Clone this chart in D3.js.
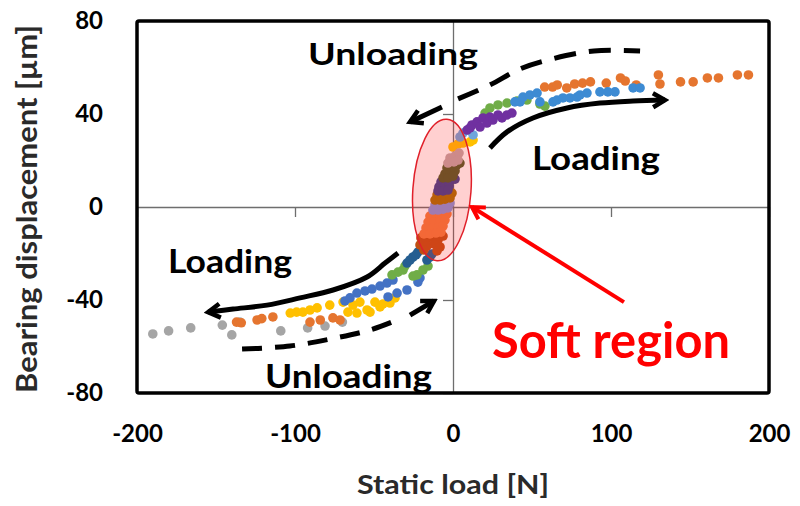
<!DOCTYPE html>
<html>
<head>
<meta charset="utf-8">
<script src="https://cdn.jsdelivr.net/npm/d3@7"></script>
<style>
body { margin: 0; background: #fff; }
svg text { font-family: Lato, "Open Sans", sans-serif; font-weight: bold; }
</style>
</head>
<body>
<div id="chart"></div>
<script>
width = 800;
height = 506;

margin = { top: 21, right: 31, bottom: 113, left: 137 };

//////// Data ////////
const xTicks = [-200, -100, 0, 100, 200];
const yTicks = [-80, -40, 0, 40, 80];
const xTitle = "Static load [N]";
const yTitle = "Bearing displacement [µm]";

// each run: [static load (N), bearing displacement (µm)]
const runGray = [[-190,-54.6],[-180,-53.3],[-166,-52],[-146,-50.8],[-140,-55],[-135,-49.5],
    [-109,-53.3],[-92,-52],[-81,-51.2],[-70,-49.5]];
const runOrange = [[-137,-49.5],[-134,-49.8],[-124,-48.6],[-121,-48],[-114,-47.3],[-90.5,-49.5],
    [-84,-48.6],[-76,-47.7],[-71.5,-48.6],
    [58,51.6],[63,51.6],[66,52.5],[72,51.2],[77,52.9],[82,53.3],[87,53.8],[97,53.3],[106,55.5],
    [109,54.2],[116,52.5],[130,56.8],[131,52.9],[144,53.8],[152,53.8],[161,55.5],[168,55.5],
    [180,56.8],[187,56.8]];
const runYellow = [[-103,-45.6],[-99,-45.2],[-95,-45.2],[-90.5,-44.3],[-86,-43.4],[-78,-42.2],
    [-69.6,-40.9],[-66.5,-45.2],[-63.3,-42.2],[-60.8,-45.6],[-58.9,-40.9],[-54.4,-44.3],
    [-52.5,-45.2],[-49.4,-40.9],[-46.2,-43],[-44.3,-41.7],[-39.9,-41.3],[-36.7,-39.1],
    [0,25.8],[3.2,27.1],[6.3,27.5],[10.8,28],[12.7,28.8]];
const runBlue = [[-68.4,-40.4],[-65.2,-39.1],[-60.8,-37],[-55.7,-36.1],[-51.3,-35.3],[-46.2,-34],
    [-41.8,-32.7],[-38,-31.4],[-41.1,-38.7],[-35.4,-37],[-29.1,-35.7],[-22.2,-32.3],[-20.9,-30.5]];
const runSky = [[39.2,45.2],[42.4,45.2],[44.3,47.3],[48.7,48.2],[53.2,49],[55,45.2],[63.3,45.2],
    [65.8,46],[69.6,46.9],[74,46.9],[78.5,47.3],[80.4,48.2],[84.8,49],[93,49.5],[98,49.5],
    [102.5,49.5],[114,51.2],[118.4,51.2]];
const runGreen = [[-38.6,-29.2],[-34.8,-28],[-31.6,-27.1],[-25.3,-29.7],[-22.8,-29.2],[-19,-27.1],
    [-30.4,-25.4],[-15.8,-25.4],
    [20.3,40.4],[23.4,42.6],[28.5,43.9],[34.2,44.7],[40.5,45.6],[46.8,46],[55,44.3],[58.2,43.4]];
const runPurple = [[8.9,33.1],[10.8,34],[12,35.3],[15.2,36.6],[17.1,34.4],[19,38.3],[21.5,36.1],
    [23.4,38.7],[25.3,37.4],[28.5,39.6],[31,38.3],[34.2,39.6],[37.3,40.4]];
const runLightBlue = [[4.4,30.1],[6.3,31.8],[9.5,33.1],[12.7,31]];
// soft region runs, top to bottom
const runSilver = [[-1.9,21.1],[1.3,21.9],[3.8,23.2],[-3.2,18.9],[0.6,19.4],[3.2,20.2]];
const runDarkGreen = [[-3.8,16.8],[-0.6,17.6],[2.5,18.1],[4.4,18.9],[-5.1,14.2],[-1.9,14.6],
    [1.3,15.5],[-6.3,12.5],[-3.2,12.5],[0,13.3]];
const runNavy = [[-7.6,10.8],[-4.4,11.2],[-1.3,11.6],[1.3,12],[-8.9,8.6],[-5.7,8.6],[-2.5,9],
    [-9.5,6.9],[-6.3,6.9],[-3.2,7.3]];
const runGold = [[-10.1,5.2],[-7,5.2],[-3.8,5.6],[-0.6,6],[-11.4,3],[-8.2,3],[-5.1,3.4],[-1.9,3.9]];
const runPeriwinkle = [[-11.4,0.9],[-8.2,0.9],[-5.1,1.3],[-1.9,1.7],[-12.7,-1.3],[-9.5,-1.3],
    [-6.3,-0.9],[-3.2,-0.4]];
const runCoral = [[-14.6,-3.9],[-10.8,-3.9],[-7,-3.4],[-3.8,-3],[-15.8,-6.5],[-12,-6.5],[-8.2,-6],
    [-5.1,-5.6],[-17.1,-9],[-13.3,-9],[-9.5,-8.6],[-6.3,-8.2],[-18.4,-11.6],[-14.6,-11.6],
    [-10.8,-11.2],[-7.6,-10.8]];
const runRust = [[-20.3,-13.3],[-17.1,-14.2],[-13.3,-12.9],[-9.5,-14.2],[-6.3,-12.5],[-20.9,-16.3],
    [-16.5,-16.8],[-12,-15.9],[-8.2,-17.2],[-18.4,-18.5],[-10.1,-18.9]];
const runTeal = [[-22.2,-19.4],[-25.3,-21.5],[-29.1,-24.1],[-16.5,-22.8],[-14.6,-21.5],[-13.3,-20.2],
    [-27.2,-22.8],[-23.4,-20.6]];

const runs = [
    { pts: runGray, color: "#A5A5A5" },
    { pts: runOrange, color: "#E5752F" },
    { pts: runYellow, color: "#FFC000" },
    { pts: runBlue, color: "#4472C4" },
    { pts: runGreen, color: "#70AD47" },
    { pts: runSky, color: "#3D8BD3" },
    { pts: runLightBlue, color: "#6FA5DC" },
    { pts: runPurple, color: "#7030A0" },
    { pts: runTeal, color: "#255E91" },
    { pts: runRust, color: "#C04E12" },
    { pts: runCoral, color: "#F07A3C" },
    { pts: runPeriwinkle, color: "#8593D8" },
    { pts: runGold, color: "#A66D00" },
    { pts: runNavy, color: "#3B3F8E" },
    { pts: runDarkGreen, color: "#4E5A26" },
    { pts: runSilver, color: "#BFA6A6" }
];

// annotation paths, in data units
const unloadTop = [[3.2,46.5],[23.4,52.5],[42.4,59.4],[62.7,63.7],[89.2,67.1],[118.4,67.1]];
const unloadTopArrow = [[-7,43],[-27.2,36.6]];
const loadTop = [[23.4,25.4],[34.2,32.3],[50.6,38.3],[72.2,42.6],[93,44.7],[113.9,45.6],[134.2,46]];
const loadBottom = [[-34.8,-19.8],[-43,-24.1],[-54.4,-30.1],[-75.9,-35.7],[-96.8,-39.1],
    [-117.7,-42.2],[-139.2,-43.9],[-155,-45.2]];
const unloadBottom = [[-133.5,-61.1],[-103.2,-59.8],[-77.8,-56.8],[-52.5,-52.9],[-38.6,-49.5]];
const unloadBottomArrow = [[-27.2,-46.5],[-12,-40.4]];
const softArrow = [[108.2,-40.9],[12,0]];

//////// Scales ////////
const xScale = d3.scaleLinear().domain([-200, 200]).range([margin.left, width - margin.right]);
const yScale = d3.scaleLinear().domain([-80, 80]).range([height - margin.bottom, margin.top]);

const svg = d3.select("#chart").append("svg")
    .attr("width", width)
    .attr("height", height);

const defs = svg.append("defs");
function arrowMarker(id, color, w) {
    defs.append("marker")
        .attr("id", id)
        .attr("viewBox", "-16 -10 20 20")
        .attr("refX", 0).attr("refY", 0)
        .attr("markerWidth", 20).attr("markerHeight", 20)
        .attr("markerUnits", "userSpaceOnUse")
        .attr("orient", "auto")
        .append("path")
        .attr("d", "M-12,-7 L0,0 L-12,7")
        .attr("fill", "none")
        .attr("stroke", color)
        .attr("stroke-width", w)
        .attr("stroke-linejoin", "miter");
}
arrowMarker("headBlack", "#000", 4.5);
arrowMarker("headRed", "#f00", 4);

//////// Axes (Excel style: lines through zero, labels low) ////////
svg.append("g")
    .attr("transform", `translate(0,${yScale(0)})`)
    .call(d3.axisBottom(xScale).tickValues(xTicks).tickSize(10).tickSizeOuter(0).tickFormat(""))
    .call(g => g.selectAll("path, line").attr("stroke", "#6e6e6e").attr("stroke-width", 1.3));

svg.append("g")
    .attr("transform", `translate(${xScale(0)},0)`)
    .call(d3.axisLeft(yScale).tickValues(yTicks).tickSize(10).tickSizeOuter(0).tickFormat(""))
    .call(g => g.selectAll("path, line").attr("stroke", "#6e6e6e").attr("stroke-width", 1.3));

svg.append("g")
    .attr("transform", `translate(0,${height - margin.bottom})`)
    .call(d3.axisBottom(xScale).tickValues(xTicks).tickSize(0).tickPadding(32).tickFormat(d => String(d)))
    .call(g => g.select(".domain").remove())
    .call(g => g.selectAll("text").attr("font-size", 24).attr("fill", "#000")
        .attr("font-family", "Lato, sans-serif").attr("font-weight", "bold"));

svg.append("g")
    .attr("transform", `translate(${margin.left},0)`)
    .call(d3.axisLeft(yScale).tickValues(yTicks).tickSize(0).tickPadding(34).tickFormat(d => String(d)))
    .call(g => g.select(".domain").remove())
    .call(g => g.selectAll("text").attr("font-size", 24).attr("fill", "#000")
        .attr("font-family", "Lato, sans-serif").attr("font-weight", "bold"));

// plot frame
svg.append("rect")
    .attr("x", margin.left).attr("y", margin.top)
    .attr("width", width - margin.left - margin.right)
    .attr("height", height - margin.top - margin.bottom)
    .attr("rx", 2)
    .attr("fill", "none")
    .attr("stroke", "#000")
    .attr("stroke-width", 3.5);

// axis titles
svg.append("text")
    .attr("x", xScale(0)).attr("y", 494)
    .attr("text-anchor", "middle")
    .attr("font-size", 26).attr("fill", "#2a2a2a")
    .attr("textLength", 192).attr("lengthAdjust", "spacingAndGlyphs")
    .text(xTitle);

svg.append("text")
    .attr("transform", `translate(37,${yScale(0) + 2}) rotate(-90)`)
    .attr("text-anchor", "middle")
    .attr("font-size", 28).attr("fill", "#2a2a2a")
    .attr("textLength", 368).attr("lengthAdjust", "spacingAndGlyphs")
    .text(yTitle);

//////// Points ////////
runs.forEach(run => {
    svg.append("g")
        .selectAll("circle")
        .data(run.pts)
        .join("circle")
        .attr("cx", d => xScale(d[0]))
        .attr("cy", d => yScale(d[1]))
        .attr("r", 4.8)
        .attr("fill", run.color);
});

//////// Annotations ////////
const line = d3.line().x(d => xScale(d[0])).y(d => yScale(d[1])).curve(d3.curveCatmullRom);

svg.append("path").attr("d", line(unloadTop))
    .attr("fill", "none").attr("stroke", "#000").attr("stroke-width", 5).attr("stroke-dasharray", "22,13");
svg.append("path").attr("d", line(unloadBottom))
    .attr("fill", "none").attr("stroke", "#000").attr("stroke-width", 5).attr("stroke-dasharray", "20,13");
[unloadTopArrow, unloadBottomArrow, loadTop, loadBottom].forEach(p => {
    svg.append("path").attr("d", line(p))
        .attr("fill", "none").attr("stroke", "#000").attr("stroke-width", 5)
        .attr("marker-end", "url(#headBlack)");
});

// soft region
const ex = xScale(-7), ey = yScale(7.3);
svg.append("ellipse")
    .attr("transform", `translate(${ex},${ey}) rotate(4)`)
    .attr("rx", xScale(-7 + 18.4) - ex)
    .attr("ry", ey - yScale(7.3 + 30.5))
    .attr("fill", "rgba(255,40,40,0.22)")
    .attr("stroke", "#e0202a")
    .attr("stroke-width", 1.5);

svg.append("path").attr("d", line(softArrow))
    .attr("fill", "none").attr("stroke", "#f00").attr("stroke-width", 4)
    .attr("marker-end", "url(#headRed)");

const labels = [
    { t: "Unloading", x: -91.8, y: 61.1, size: 31, w: 170, c: "#000" },
    { t: "Loading", x: 50, y: 15.9, size: 32, w: 128, c: "#000" },
    { t: "Loading", x: -180.4, y: -28.4, size: 32, w: 124, c: "#000" },
    { t: "Unloading", x: -119, y: -77.8, size: 32, w: 167, c: "#000" },
    { t: "Soft region", x: 24.7, y: -64.9, size: 50, w: 238, c: "#f00" }
];
labels.forEach(l => {
    svg.append("text")
        .attr("x", xScale(l.x)).attr("y", yScale(l.y))
        .attr("font-size", l.size).attr("fill", l.c)
        .attr("textLength", l.w).attr("lengthAdjust", "spacingAndGlyphs")
        .text(l.t);
});
</script>
</body>
</html>
